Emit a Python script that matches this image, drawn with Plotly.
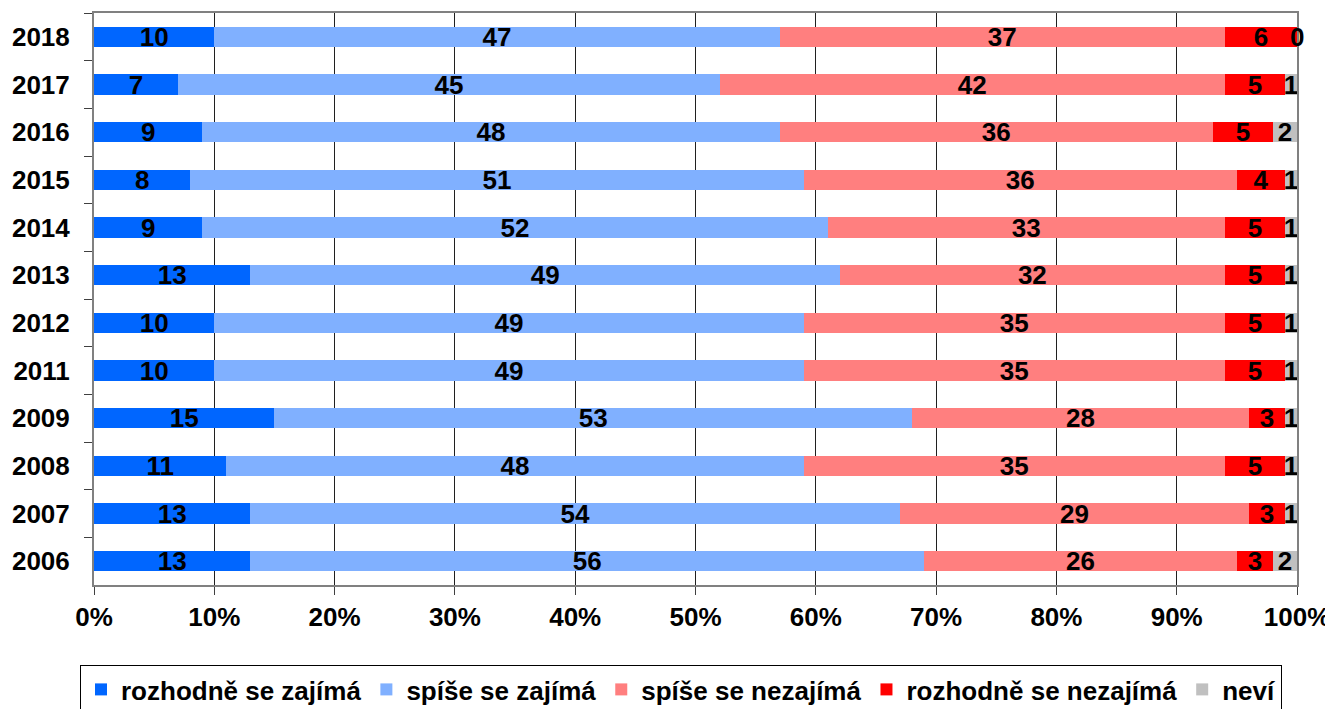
import plotly.graph_objects as go

years = ["2018", "2017", "2016", "2015", "2014", "2013", "2012", "2011", "2009", "2008", "2007", "2006"]
rozhodne_zajima = [10, 7, 9, 8, 9, 13, 10, 10, 15, 11, 13, 13]
spise_zajima = [47, 45, 48, 51, 52, 49, 49, 49, 53, 48, 54, 56]
spise_nezajima = [37, 42, 36, 36, 33, 32, 35, 35, 28, 35, 29, 26]
rozhodne_nezajima = [6, 5, 5, 4, 5, 5, 5, 5, 3, 5, 3, 3]
nevi = [0, 1, 2, 1, 1, 1, 1, 1, 1, 1, 1, 2]
x_ticks = [0, 10, 20, 30, 40, 50, 60, 70, 80, 90, 100]

series = [
    ("rozhodně se zajímá", rozhodne_zajima, "#0066FF"),
    ("spíše se zajímá", spise_zajima, "#80B0FF"),
    ("spíše se nezajímá", spise_nezajima, "#FF7F7F"),
    ("rozhodně se nezajímá", rozhodne_nezajima, "#FF0000"),
    ("neví", nevi, "#C0C0C0"),
]

FONT = "Liberation Sans, Arial, sans-serif"
FS = 26

# page body has an 8px margin; figure sized to fit the 1333x709 window
W, H = 1325, 701

fig = go.Figure()
for name, vals, color in series:
    fig.add_trace(go.Bar(
        y=years, x=vals, name=name, orientation="h",
        marker=dict(color=color, line=dict(width=0)),
        text=[str(v) for v in vals],
        textposition="inside", insidetextanchor="middle",
        constraintext="none", textangle=0,
        insidetextfont=dict(family=FONT, size=FS, color="black", weight="bold"),
        cliponaxis=False,
        width=0.42,
    ))

# labels for zero-width segments (bar text is not drawn for them)
for i, y in enumerate(years):
    total = rozhodne_zajima[i] + spise_zajima[i] + spise_nezajima[i] + rozhodne_nezajima[i]
    if nevi[i] == 0:
        fig.add_annotation(x=total + nevi[i] / 2, y=i, text=str(nevi[i]), showarrow=False,
                           font=dict(family=FONT, size=FS, color="black", weight="bold"),
                           xanchor="center", yanchor="middle")

fig.update_layout(
    barmode="stack",
    width=W, height=H,
    margin=dict(l=86, r=36, t=5, b=124),
    plot_bgcolor="white", paper_bgcolor="white",
    font=dict(family=FONT, size=FS, color="black", weight="bold"),
    showlegend=True,
    legend=dict(
        orientation="h", x=(681 - 8) / W, xanchor="center", xref="container",
        y=1 - (665 - 8) / H, yanchor="top", yref="container",
        bordercolor="black", borderwidth=1,
        font=dict(family=FONT, size=FS, color="black", weight="bold"),
        itemwidth=30, traceorder="normal",
    ),
)

fig.update_xaxes(
    range=[0, 100], tickvals=x_ticks,
    ticktext=[f"{t}%" for t in x_ticks],
    showgrid=True, gridcolor="#202020", gridwidth=1,
    showline=True, linecolor="#808080", linewidth=2, mirror=True,
    ticks="outside", ticklen=8, tickcolor="#404040",
    tickfont=dict(family=FONT, size=FS, color="black", weight="bold"),
    zeroline=False, automargin=False,
)
fig.update_yaxes(
    type="category", range=[len(years) - 0.5, -0.5],
    showline=True, linecolor="#808080", linewidth=2, mirror=True,
    ticks="outside", ticklen=8, tickcolor="#404040", tickson="boundaries",
    tickfont=dict(family=FONT, size=FS, color="black", weight="bold"),
    showgrid=False, ticklabelstandoff=17, automargin=False,
)

fig.write_html("out.html")
